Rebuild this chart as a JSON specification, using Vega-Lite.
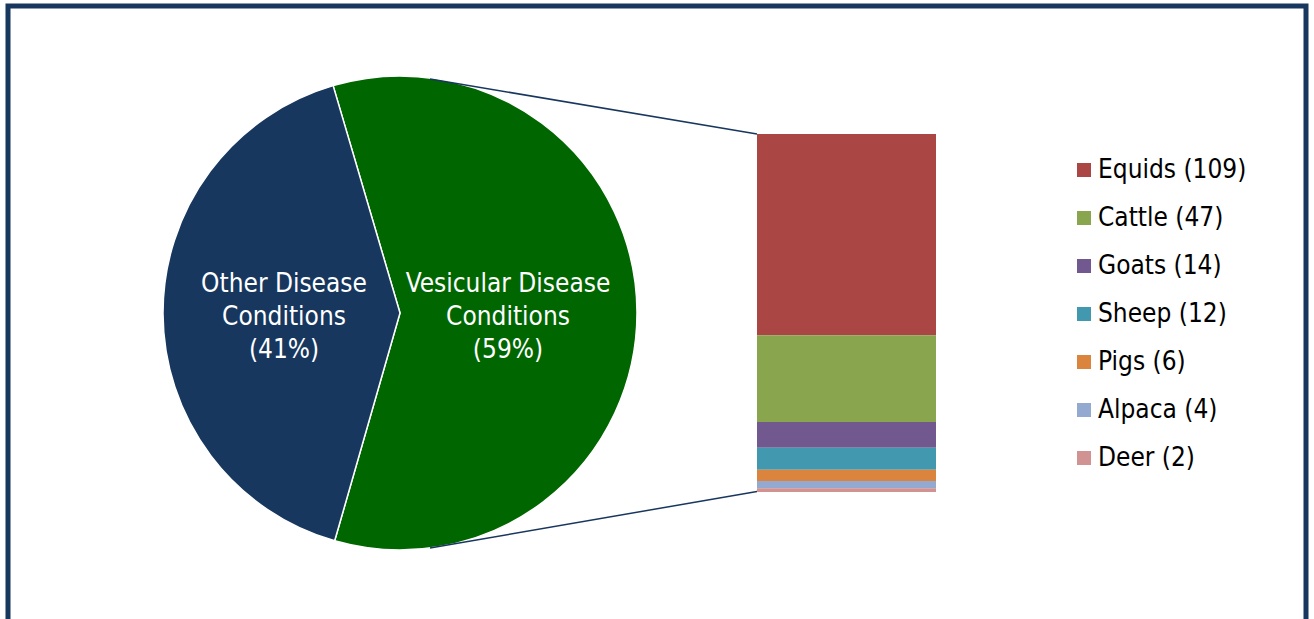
{
  "$schema": "https://vega.github.io/schema/vega-lite/v6.json",
  "width": 1298,
  "height": 620,
  "padding": {"left": 8, "top": 6, "right": 8, "bottom": 0},
  "background": "white",
  "config": {
    "view": {"stroke": "#17375E", "strokeWidth": 5},
    "font": "DejaVu Sans Condensed, DejaVu Sans",
    "text": {"font": "DejaVu Sans Condensed, DejaVu Sans"}
  },
  "layer": [
    {
      "data": {"values": [
        {"cond": "Vesicular Disease Conditions", "pct": 59, "label": "Vesicular Disease\nConditions\n(59%)"},
        {"cond": "Other Disease Conditions", "pct": 41, "label": "Other Disease\nConditions\n(41%)"}
      ]},
      "encoding": {
        "theta": {"field": "pct", "type": "quantitative", "stack": true, "scale": {"range": [-0.2862, 5.997]}},
        "order": {"field": "pct", "sort": "descending"},
        "x": {"value": 392},
        "y": {"value": 307}
      },
      "layer": [
        {
          "mark": {"type": "arc", "outerRadius": 237, "stroke": "white", "strokeWidth": 1.5},
          "encoding": {
            "color": {"field": "cond", "type": "nominal",
              "scale": {"domain": ["Vesicular Disease Conditions", "Other Disease Conditions"], "range": ["#006600", "#17375E"]},
              "legend": null}
          }
        },
        {
          "mark": {"type": "text", "radius": 112, "dx": -4, "dy": -29, "lineBreak": "\n", "fill": "white", "fontSize": 26, "lineHeight": 33, "align": "center", "baseline": "middle"},
          "encoding": {"text": {"field": "label", "type": "nominal"}}
        }
      ]
    },
    {
      "data": {"values": [{}]},
      "mark": {"type": "rule", "color": "#17375E", "strokeWidth": 1.5},
      "encoding": {"x": {"value": 422}, "y": {"value": 73}, "x2": {"value": 749}, "y2": {"value": 128}}
    },
    {
      "data": {"values": [{}]},
      "mark": {"type": "rule", "color": "#17375E", "strokeWidth": 1.5},
      "encoding": {"x": {"value": 422}, "y": {"value": 542}, "x2": {"value": 749}, "y2": {"value": 485.5}}
    },
    {
      "data": {"values": [
        {"cond": "Vesicular Disease Conditions", "animal": "Equids", "n": 109},
        {"cond": "Vesicular Disease Conditions", "animal": "Cattle", "n": 47},
        {"cond": "Vesicular Disease Conditions", "animal": "Goats", "n": 14},
        {"cond": "Vesicular Disease Conditions", "animal": "Sheep", "n": 12},
        {"cond": "Vesicular Disease Conditions", "animal": "Pigs", "n": 6},
        {"cond": "Vesicular Disease Conditions", "animal": "Alpaca", "n": 4},
        {"cond": "Vesicular Disease Conditions", "animal": "Deer", "n": 2}
      ]},
      "transform": [{"calculate": "datum.animal + ' (' + datum.n + ')'", "as": "entry"}],
      "mark": {"type": "bar"},
      "encoding": {
        "x": {"field": "cond", "type": "nominal", "axis": null,
          "scale": {"range": [749, 928], "paddingInner": 0, "paddingOuter": 0}},
        "y": {"field": "n", "type": "quantitative", "stack": "zero", "axis": null,
          "scale": {"domain": [0, 194], "nice": false, "range": [486, 128]}},
        "order": {"field": "n", "sort": "ascending"},
        "color": {"field": "entry", "type": "nominal",
          "scale": {
            "domain": ["Equids (109)", "Cattle (47)", "Goats (14)", "Sheep (12)", "Pigs (6)", "Alpaca (4)", "Deer (2)"],
            "range": ["#AA4643", "#89A54E", "#71588F", "#4198AF", "#DB843D", "#93A9CF", "#D19392"]
          },
          "legend": {
            "title": null, "orient": "none", "legendX": 1063, "legendY": 151,
            "symbolType": "square", "symbolSize": 196, "symbolStrokeWidth": 0,
            "labelFontSize": 26, "labelFont": "DejaVu Sans Condensed, DejaVu Sans", "labelColor": "black",
            "labelOffset": 1, "rowPadding": 22, "padding": 0
          }
        }
      }
    }
  ],
  "resolve": {"scale": {"color": "independent", "theta": "independent"}}
}
